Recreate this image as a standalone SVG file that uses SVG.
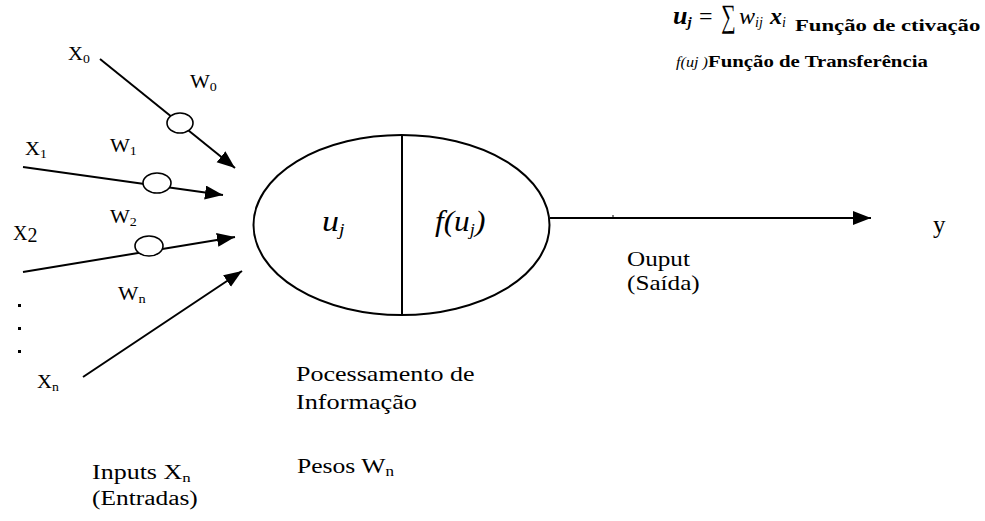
<svg xmlns="http://www.w3.org/2000/svg" width="985" height="521" viewBox="0 0 985 521">
<defs>
<marker id="arr" markerUnits="userSpaceOnUse" markerWidth="19" markerHeight="15" refX="18" refY="7" orient="auto">
<path d="M0,0 L18,7 L0,14 z" fill="#000"/>
</marker>
<style>
.t{font-family:"Liberation Serif","Times New Roman",serif;fill:#000}
.ln{stroke:#000;stroke-width:2;fill:none}
.w{fill:#fff;stroke:#000;stroke-width:1.6}
.it{font-style:italic}
.b{font-weight:bold}
</style>
</defs>
<rect width="985" height="521" fill="#fff"/>
<g id="connectors">
<line class="ln" x1="100" y1="59" x2="235" y2="168" marker-end="url(#arr)"/>
<line class="ln" x1="23" y1="167" x2="223" y2="195" marker-end="url(#arr)"/>
<line class="ln" x1="23" y1="272" x2="235" y2="237" marker-end="url(#arr)"/>
<line class="ln" x1="83" y1="377" x2="242" y2="271" marker-end="url(#arr)"/>
<line class="ln" x1="550" y1="218" x2="871" y2="218" marker-end="url(#arr)"/>
<line x1="613" y1="215" x2="613" y2="218" stroke="#000" stroke-width="1"/>
</g>
<g id="weight0"><ellipse class="w" cx="180" cy="123" rx="13" ry="10"/></g>
<g id="weight1"><ellipse class="w" cx="157" cy="183" rx="14" ry="10"/></g>
<g id="weight2"><ellipse class="w" cx="149" cy="246" rx="14" ry="10"/></g>
<g id="neuron">
<ellipse cx="401.5" cy="225" rx="148" ry="90" fill="#fff" stroke="#000" stroke-width="2"/>
<line x1="402" y1="135" x2="402" y2="315" stroke="#000" stroke-width="2"/>
<text class="t it" transform="translate(322,231) scale(1.17,1)" font-size="29">u<tspan font-size="17" dy="4">j</tspan></text>
<text class="t it" transform="translate(435,231) scale(1.08,1)" font-size="29">f(u<tspan font-size="17" dy="4">j</tspan><tspan dy="-4">)</tspan></text>
</g>
<g id="input-labels">
<text class="t" transform="translate(68,60) scale(1.15,1)" font-size="18">X<tspan font-size="12" dy="3">0</tspan></text>
<text class="t" transform="translate(190,88) scale(1.17,1)" font-size="18">W<tspan font-size="12" dy="3">0</tspan></text>
<text class="t" transform="translate(25,155) scale(1.15,1)" font-size="18">X<tspan font-size="12" dy="3">1</tspan></text>
<text class="t" transform="translate(110,152) scale(1.17,1)" font-size="18">W<tspan font-size="12" dy="3">1</tspan></text>
<text class="t" x="13" y="240" font-size="20">X<tspan dy="2">2</tspan></text>
<text class="t" transform="translate(110,223) scale(1.17,1)" font-size="18">W<tspan font-size="12" dy="3">2</tspan></text>
<text class="t" transform="translate(118,300) scale(1.2,1)" font-size="18">W<tspan font-size="12" dy="3">n</tspan></text>
<rect x="18" y="304" width="3" height="3"/>
<rect x="18" y="327" width="3" height="3"/>
<rect x="18" y="350" width="3" height="3"/>
<text class="t" transform="translate(37,388) scale(1.15,1)" font-size="18">X<tspan font-size="12" dy="3">n</tspan></text>
</g>
<g id="output-labels">
<text class="t" transform="translate(627,266) scale(1.26,1)" font-size="20">Ouput</text>
<text class="t" transform="translate(627,290) scale(1.26,1)" font-size="20">(Saída)</text>
<text class="t" x="933" y="233" font-size="25">y</text>
</g>
<g id="captions">
<text class="t" transform="translate(296,381) scale(1.24,1)" font-size="21">Pocessamento de</text>
<text class="t" transform="translate(296,409) scale(1.25,1)" font-size="21">Informação</text>
<text class="t" transform="translate(297,473) scale(1.22,1)" font-size="21">Pesos W<tspan font-size="14" dy="3">n</tspan></text>
<text class="t" transform="translate(92,479) scale(1.3,1)" font-size="20">Inputs  X<tspan font-size="13" dy="3">n</tspan></text>
<text class="t" transform="translate(92,505) scale(1.27,1)" font-size="20">(Entradas)</text>
</g>
<g id="formula">
<text class="t it b" x="673" y="24" font-size="26">u<tspan font-size="15" dy="3">j</tspan></text>
<text class="t" x="699" y="24" font-size="24">=</text>
<text class="t" transform="translate(721,27) scale(0.85,1.35)" font-size="24">∑</text>
<text class="t it" x="739" y="24" font-size="24">w<tspan font-size="14" dy="3">ij</tspan></text>
<text class="t it b" x="770" y="24" font-size="24">x<tspan font-size="14" dy="3" font-weight="normal">i</tspan></text>
<text class="t b" transform="translate(795,31) scale(1.42,1)" font-size="16">Função de ctivação</text>
<text class="t it" transform="translate(676,67) scale(1.08,1)" font-size="15">f(uj )</text>
<text class="t b" transform="translate(708,67) scale(1.3,1)" font-size="16">Função de Transferência</text>
</g>
</svg>
